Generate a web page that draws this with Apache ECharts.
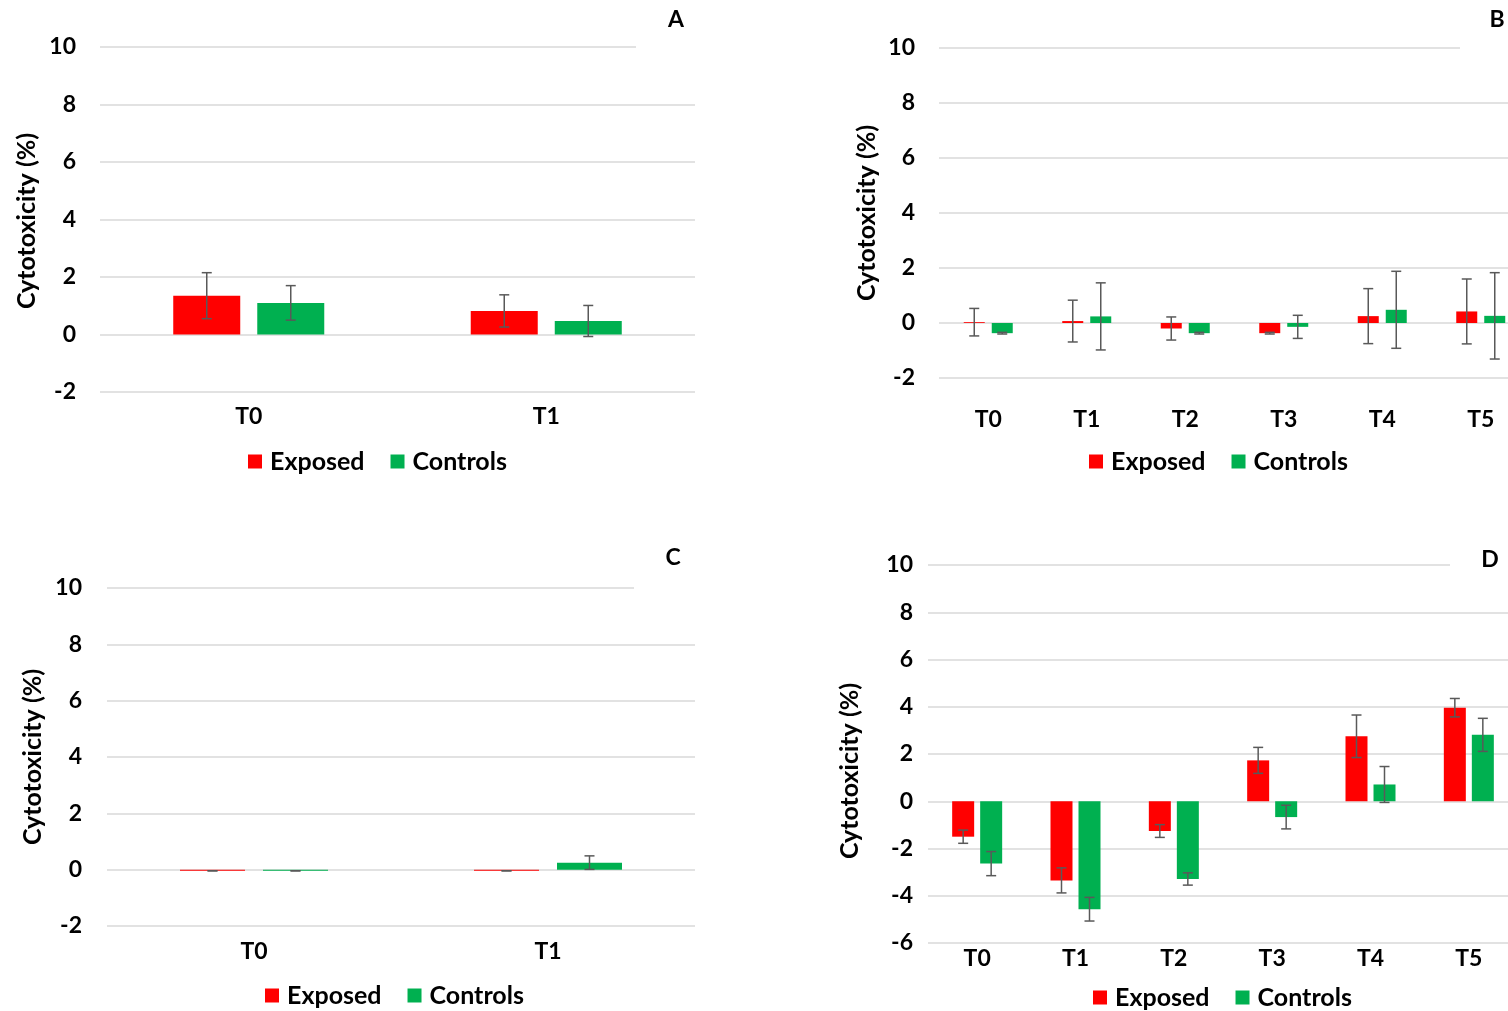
<!DOCTYPE html>
<html><head><meta charset="utf-8">
<script src="https://cdn.jsdelivr.net/npm/echarts@6/dist/echarts.min.js"></script>
<style>html,body{margin:0;padding:0;background:#fff;overflow:hidden}#c{width:1540px;height:1011px}</style>
</head><body><div id="c"></div>
<script>
// ---- data ----
const catsAC = ['T0', 'T1'];
const catsBD = ['T0', 'T1', 'T2', 'T3', 'T4', 'T5'];
const yTicks = { A: [-2, 10, 2], B: [-2, 10, 2], C: [-2, 10, 2], D: [-6, 10, 2] };
const yTitle = 'Cytotoxicity (%)';
const seriesNames = ['Exposed', 'Controls'];

const A_exposed = [1.35, 0.82];
const A_exposedErr = [0.80, 0.56];
const A_controls = [1.10, 0.47];
const A_controlsErr = [0.60, 0.54];

const B_exposed = [0.03, 0.07, -0.20, -0.37, 0.25, 0.42];
const B_exposedErr = [0.50, 0.76, 0.42, 0.03, 1.00, 1.18];
const B_controls = [-0.37, 0.24, -0.37, -0.14, 0.48, 0.26];
const B_controlsErr = [0.03, 1.22, 0.03, 0.42, 1.40, 1.57];

const C_exposed = [-0.04, -0.04];
const C_exposedErr = [0, 0];
const C_controls = [-0.04, 0.25];
const C_controlsErr = [0, 0.24];

const D_exposed = [-1.50, -3.35, -1.26, 1.73, 2.75, 3.96];
const D_exposedErr = [0.28, 0.53, 0.27, 0.55, 0.90, 0.39];
const D_controls = [-2.64, -4.57, -3.29, -0.67, 0.71, 2.81];
const D_controlsErr = [0.51, 0.50, 0.26, 0.50, 0.76, 0.70];

const RED = '#FF0000', GREEN = '#00B050';
const FONT = 'Lato';

const panels = [
  { key: 'A', cats: catsAC, ex: A_exposed, exE: A_exposedErr, co: A_controls, coE: A_controlsErr,
    grid: { left: 100, top: 47, width: 595, height: 345 }, barW: 67, gap: 17, xMargin: 13, yMargin: 24,
    name: [27, 221], legend: { left: 243, top: 444 }, letter: [676, 20], cover: [636, 41, 70, 12] },
  { key: 'B', cats: catsBD, ex: B_exposed, exE: B_exposedErr, co: B_controls, coE: B_controlsErr,
    grid: { left: 939, top: 48, width: 591, height: 330 }, barW: 21, gap: 7, xMargin: 30, yMargin: 24,
    name: [867, 213], legend: { left: 1084, top: 444 }, letter: [1497, 20], cover: [1460, 42, 80, 12] },
  { key: 'C', cats: catsAC, ex: C_exposed, exE: C_exposedErr, co: C_controls, coE: C_controlsErr,
    grid: { left: 107, top: 588, width: 588, height: 338 }, barW: 65, gap: 18, xMargin: 14, yMargin: 25,
    name: [33, 757], legend: { left: 260, top: 978 }, letter: [673, 558], cover: [634, 582, 70, 12] },
  { key: 'D', cats: catsBD, ex: D_exposed, exE: D_exposedErr, co: D_controls, coE: D_controlsErr,
    grid: { left: 928, top: 565, width: 590, height: 378 }, barW: 22, gap: 6, xMargin: 4, yMargin: 15,
    name: [850, 771], legend: { left: 1088, top: 980 }, letter: [1490, 560], cover: [1450, 559, 90, 12] }
];

function errRender(barW, gap, idx) {
  return function (params, api) {
    const x = api.value(0), v = api.value(1), e = api.value(2);
    const c = api.coord([x, v]);
    const t = api.coord([x, v + e]);
    const b = api.coord([x, v - e]);
    const total = 2 * barW + gap;
    const off = idx === 0 ? -total / 2 + barW / 2 : total / 2 - barW / 2;
    const cx = c[0] + off;
    const cap = 5;
    const style = { stroke: '#595959', lineWidth: 1.5 };
    return {
      type: 'group',
      children: [
        { type: 'line', shape: { x1: cx, y1: t[1], x2: cx, y2: b[1] }, style },
        { type: 'line', shape: { x1: cx - cap, y1: t[1], x2: cx + cap, y2: t[1] }, style },
        { type: 'line', shape: { x1: cx - cap, y1: b[1], x2: cx + cap, y2: b[1] }, style }
      ]
    };
  };
}

const option = { animation: false, backgroundColor: '#fff', grid: [], xAxis: [], yAxis: [], series: [], legend: [], graphic: [] };

panels.forEach((p, i) => {
  option.grid.push(Object.assign({ containLabel: false }, p.grid));
  option.xAxis.push({
    type: 'category', gridIndex: i, data: p.cats,
    axisLine: { show: false, onZero: false }, axisTick: { show: false },
    axisLabel: { margin: p.xMargin, fontFamily: FONT, fontWeight: 'bold', fontSize: 23, color: '#000' }
  });
  const yt = yTicks[p.key];
  option.yAxis.push({
    type: 'value', gridIndex: i, min: yt[0], max: yt[1], interval: yt[2],
    axisLine: { show: false }, axisTick: { show: false },
    axisLabel: { margin: p.yMargin, fontFamily: FONT, fontWeight: 'bold', fontSize: 23, color: '#000' },
    splitLine: { lineStyle: { color: '#d9d9d9', width: 1.5 } }
  });
  const gapPct = (p.gap / p.barW * 100).toFixed(1) + '%';
  option.series.push({
    name: seriesNames[0], type: 'bar', xAxisIndex: i, yAxisIndex: i, data: p.ex,
    barWidth: p.barW, barGap: gapPct, itemStyle: { color: RED }
  });
  option.series.push({
    name: seriesNames[1], type: 'bar', xAxisIndex: i, yAxisIndex: i, data: p.co,
    barWidth: p.barW, barGap: gapPct, itemStyle: { color: GREEN }
  });
  option.series.push({
    type: 'custom', xAxisIndex: i, yAxisIndex: i, z: 5,
    data: p.ex.map((v, k) => [k, v, p.exE[k]]),
    renderItem: errRender(p.barW, p.gap, 0)
  });
  option.series.push({
    type: 'custom', xAxisIndex: i, yAxisIndex: i, z: 5,
    data: p.co.map((v, k) => [k, v, p.coE[k]]),
    renderItem: errRender(p.barW, p.gap, 1)
  });
  option.legend.push({
    data: seriesNames, left: p.legend.left, top: p.legend.top,
    icon: 'rect', itemWidth: 14, itemHeight: 14, itemGap: 26,
    textStyle: { fontFamily: FONT, fontWeight: 'bold', fontSize: 25, color: '#000', padding: [0, 0, 0, 3] }
  });
  option.graphic.push({
    type: 'rect', z: 100, shape: { x: p.cover[0], y: p.cover[1], width: p.cover[2], height: p.cover[3] },
    style: { fill: '#fff' }
  });
  option.graphic.push({
    type: 'text', z: 101, x: p.letter[0], y: p.letter[1],
    style: { text: p.key, fontFamily: FONT, fontWeight: 'bold', fontSize: 23, fill: '#000', textAlign: 'center', textVerticalAlign: 'middle' }
  });
  option.graphic.push({
    type: 'text', z: 101, x: p.name[0], y: p.name[1], rotation: Math.PI / 2,
    style: { text: yTitle, fontFamily: FONT, fontWeight: 'bold', fontSize: 25, fill: '#000', textAlign: 'center', textVerticalAlign: 'middle' }
  });
});

const chart = echarts.init(document.getElementById('c'), null, { renderer: 'canvas' });
chart.setOption(option);
</script>
</body></html>
